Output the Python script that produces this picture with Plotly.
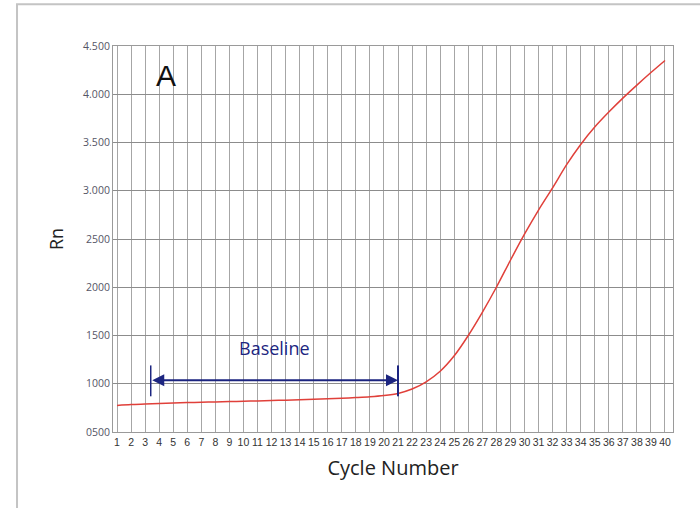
import plotly.graph_objects as go

cycles = list(range(1, 41))
rn_values = [775, 785, 790, 795, 800, 805, 808, 812, 815, 818,
             822, 826, 830, 835, 840, 845, 850, 857, 865, 878,
             900, 945, 1020, 1130, 1290, 1500, 1740, 2000, 2280, 2550,
             2800, 3030, 3270, 3480, 3660, 3815, 3960, 4095, 4225, 4350]
y_tick_vals = [500, 1000, 1500, 2000, 2500, 3000, 3500, 4000, 4500]
y_tick_text = ["0500", "1000", "1500", "2000", "2500", "3.000", "3.500", "4.000", "4.500"]
x_tick_text = [str(c) for c in cycles]
baseline_start = 3.4
baseline_end = 21.0
baseline_level = 1035
baseline_tick_low = 870
baseline_tick_high = 1190
baseline_label_y = 1370
panel_label = "A"

navy = "#1c2580"
grid = "#a6a6a6"

fig = go.Figure()
fig.add_trace(go.Scatter(x=cycles, y=rn_values, mode="lines",
                         line=dict(color="#e0403a", width=1.5, shape="spline", smoothing=0.8),
                         showlegend=False, hoverinfo="skip"))

# baseline end ticks
for xv in (baseline_start, baseline_end):
    fig.add_trace(go.Scatter(x=[xv, xv], y=[baseline_tick_low, baseline_tick_high], mode="lines",
                             line=dict(color=navy, width=1.5 if xv == baseline_start else 2),
                             showlegend=False, hoverinfo="skip"))

fig.add_annotation(x=baseline_end, y=baseline_level, ax=baseline_start, ay=baseline_level,
                   xref="x", yref="y", axref="x", ayref="y", text="",
                   showarrow=True, arrowhead=2, startarrowhead=2, arrowside="end+start",
                   arrowsize=1.2, startarrowsize=1.2, arrowwidth=2, arrowcolor=navy)
fig.add_annotation(x=(baseline_start + baseline_end) / 2, y=baseline_label_y, xref="x", yref="y",
                   text="Baseline", showarrow=False,
                   font=dict(family="Open Sans, Arial, sans-serif", size=18, color=navy))
fig.add_annotation(x=4.5, y=4190, xref="x", yref="y", text=panel_label, showarrow=False,
                   font=dict(family="Liberation Sans, Arial, sans-serif", size=30, color="#111111"))

# outer frame of the picture
fig.add_shape(type="rect", xref="paper", yref="paper", x0=-0.1714, y0=-0.4, x1=1.2, y1=1.108,
              line=dict(color="#c4c4c4", width=2), fillcolor="rgba(0,0,0,0)", layer="below")

fig.update_xaxes(range=[0.715, 40.57], tickmode="array", tickvals=cycles, ticktext=x_tick_text,
                 showgrid=True, gridcolor=grid, gridwidth=1, zeroline=False,
                 showline=True, linecolor="#9a9a9a", linewidth=1, mirror=True,
                 ticks="", tickangle=0,
                 tickfont=dict(family="Liberation Sans Narrow, Arial Narrow, Liberation Sans, sans-serif", size=10.5, color="#333333"),
                 title=dict(text="Cycle Number", font=dict(family="Open Sans, Arial, sans-serif", size=20, color="#222222"), standoff=14))
fig.update_yaxes(range=[500, 4500], tickmode="array", tickvals=y_tick_vals, ticktext=y_tick_text,
                 showgrid=True, gridcolor="#8c8c8c", gridwidth=1, zeroline=False,
                 showline=True, linecolor="#9a9a9a", linewidth=1, mirror=True, ticks="",
                 tickfont=dict(family="Open Sans, Arial, sans-serif", size=10.5, color="#555566"),
                 title=dict(text="Rn", font=dict(family="Open Sans, Arial, sans-serif", size=18, color="#222222"), standoff=14))

fig.update_layout(width=700, height=508, margin=dict(l=113, r=27, t=46, b=76),
                  paper_bgcolor="white", plot_bgcolor="white")

fig.write_html("out.html", config={"displayModeBar": False},
               post_script="document.body.style.margin='0';")
